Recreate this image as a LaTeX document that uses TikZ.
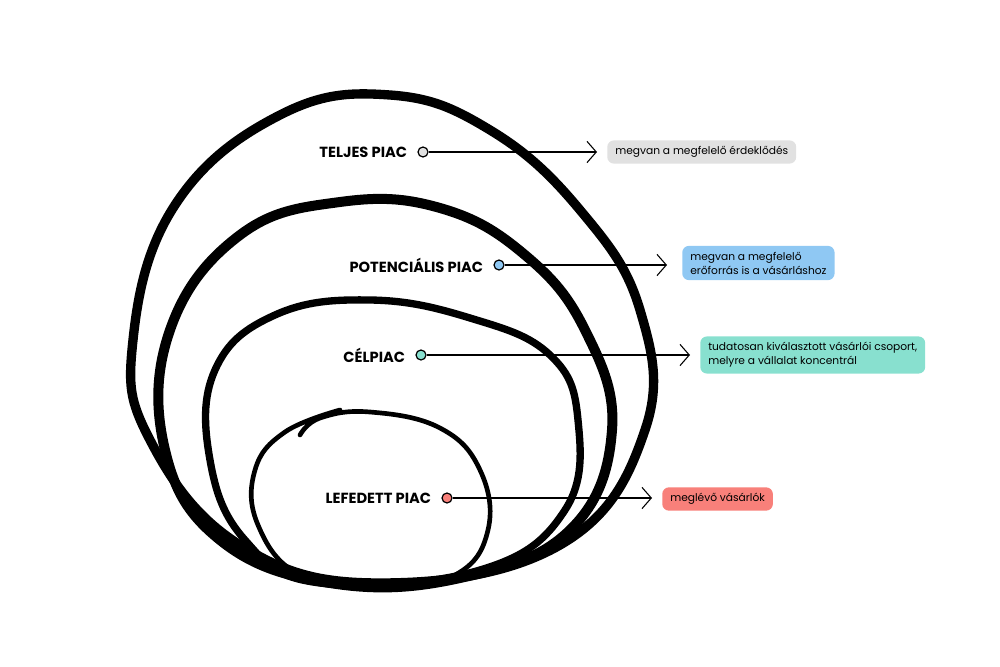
\documentclass[tikz,border=0pt]{standalone}
\usepackage{fontspec}
\setmainfont{Poppins}
\usetikzlibrary{arrows.meta}
\begin{document}
\begin{tikzpicture}[x=0.75pt,y=-0.75pt,
  loop/.style={line join=round,line cap=round},
  lab/.style={font=\bfseries\fontsize{11}{12}\selectfont,anchor=east,inner sep=2pt},
  dot/.style={circle,draw=black,line width=0.9pt,minimum size=7.5pt,inner sep=0pt},
  box/.style={rounded corners=5pt,anchor=west,align=left,inner xsep=6pt,inner ysep=4.5pt,font=\fontsize{8}{10.5}\selectfont},
  con/.style={line width=0.8pt,-{Straight Barb[length=7pt,width=16pt,line width=0.8pt]}}]
\definecolor{cg}{HTML}{E1E1E1}\definecolor{cb}{HTML}{8FC8F3}
\definecolor{ct}{HTML}{88E0CF}\definecolor{cr}{HTML}{F8807A}
\useasboundingbox (0,0) rectangle (1000,667);
% loops
\draw[loop,line width=7pt] plot[smooth cycle,tension=0.7] coordinates
 {(380,583) (240,545) (150,440) (133,340) (175,205) (280,115) (390,95) (490,130) (580,210) (640,310) (645,430) (560,545)};
\draw[loop,line width=7.5pt] plot[smooth cycle,tension=0.7] coordinates
 {(330,583) (220,540) (165,450) (170,330) (240,235) (340,202) (440,208) (525,255) (585,330) (612,430) (570,530) (460,578)};
\draw[loop,line width=5.5pt] plot[smooth cycle,tension=0.7] coordinates
 {(320,583) (245,540) (210,460) (215,370) (275,315) (370,300) (470,318) (550,355) (578,420) (565,510) (480,570)};
\draw[loop,line width=3.5pt] plot[smooth,tension=0.7] coordinates
 {(300,435) (320,418) (370,412) (440,428) (480,470) (488,530) (455,575) (380,588) (300,575) (258,525) (255,470) (285,432) (340,410)};
% labels
\node[dot,fill=cg] (d1) at (423,152) {};
\node[lab] at (410,152) {TELJES PIAC};
\node[dot,fill=cb] (d2) at (499,265) {};
\node[lab] at (486,265) {POTENCIÁLIS PIAC};
\node[dot,fill=ct] (d3) at (421,355) {};
\node[lab] at (408,355) {CÉLPIAC};
\node[dot,fill=cr] (d4) at (447,498) {};
\node[lab] at (434,498) {LEFEDETT PIAC};
\node[box,fill=cg] (b1) at (607,152) {megvan a megfelelő érdeklődés};
\node[box,fill=cb] (b2) at (682,263) {megvan a megfelelő\\erőforrás is a vásárláshoz};
\node[box,fill=ct] (b3) at (700,355) {tudatosan kiválasztott vásárlói csoport,\\melyre a vállalat koncentrál};
\node[box,fill=cr] (b4) at (662,499) {meglévő vásárlók};
\coordinate (e1) at (597,152);\coordinate (e2) at (667,265);
\coordinate (e3) at (690,355);\coordinate (e4) at (652,498);
\draw[con] (d1) -- (e1); \draw[con] (d2) -- (e2);
\draw[con] (d3) -- (e3); \draw[con] (d4) -- (e4);
\end{tikzpicture}
\end{document}
